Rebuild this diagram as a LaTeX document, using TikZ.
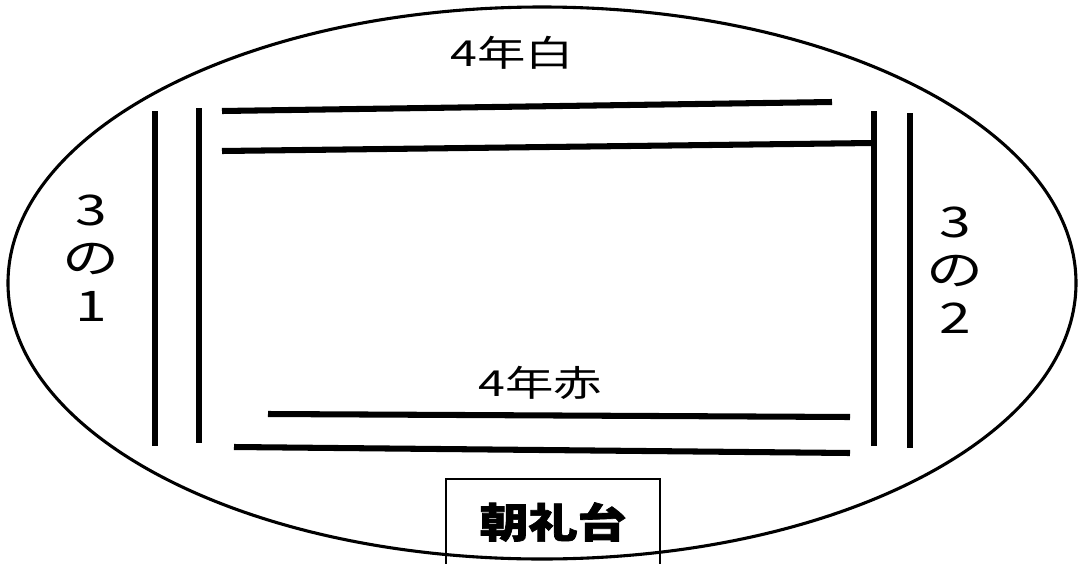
\documentclass[tikz,border=0pt]{standalone}
\usepackage{fontspec}
\newfontfamily\jp[BoldFeatures={FakeBold=1.6}]{Noto Sans CJK JP}
\newcommand{\widetext}[1]{\scalebox{1.35}[1]{#1}}

\begin{document}
\begin{tikzpicture}[x=0.25mm, y=-0.25mm,
  lane/.style={line width=4.3pt},
  classname/.style={font=\jp\fontsize{25.5}{28}\selectfont},
  sidename/.style={font=\jp\fontsize{30}{34}\selectfont, align=center},
  stagebox/.style={draw, fill=white, line width=0.9pt, font=\jp\bfseries\fontsize{29}{30}\selectfont}]
\useasboundingbox (0,0) rectangle (1081,563);

% Stage
\draw[stagebox] (446,479) rectangle (660,575);
\node[stagebox, draw=none, fill=none] (stage) at (553,522) {\scalebox{1.2}[1]{朝礼台}};

% Ground
\draw[line width=2.2pt] (542,283) ellipse [x radius=534, y radius=276];

% 4th grade, white
\draw[lane] (222,111) -- (832,102);
\draw[lane] (222,151) -- (873,143);
\node[classname] (white) at (512,53) {\widetext{4年白}};

% 4th grade, red
\draw[lane] (268,414) -- (850,417);
\draw[lane] (234,447) -- (850,453);
\node[classname] (red) at (540,383) {\widetext{4年赤}};

% 3-1
\draw[lane] (155,111) -- (155,446);
\draw[lane] (199,108) -- (199,443);
\node[sidename] (classa) at (91,258) {\widetext{3}\\\widetext{の}\\\widetext{1}};

% 3-2
\draw[lane] (874,111) -- (874,446);
\draw[lane] (910,113) -- (910,448);
\node[sidename] (classb) at (955,270) {\widetext{3}\\\widetext{の}\\\widetext{2}};
\end{tikzpicture}
\end{document}
